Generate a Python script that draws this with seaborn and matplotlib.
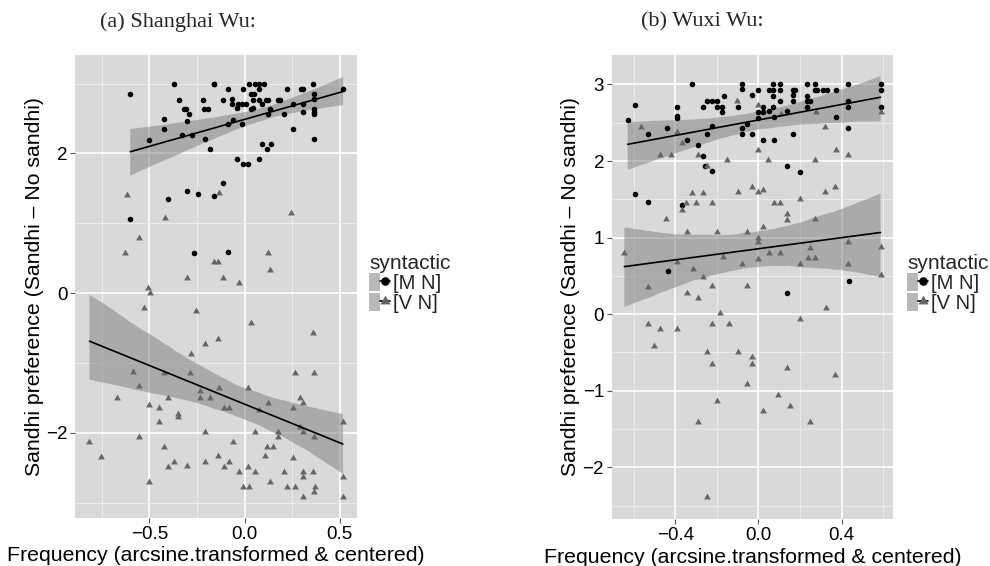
import numpy as np
import pandas as pd
import matplotlib
matplotlib.use("Agg")
import matplotlib.pyplot as plt
import seaborn as sns
from matplotlib.lines import Line2D
from matplotlib.patches import Patch
from matplotlib.path import Path
from matplotlib.legend_handler import HandlerTuple
from matplotlib.ticker import FixedLocator

# ---------------- data ----------------
groups = ["[M N]", "[V N]"]

sh_mn_x = [-0.599, -0.502, -0.424, -0.424, -0.370, -0.345, -0.318, -0.305, -0.293, -0.302,
           -0.326, -0.278, -0.217, -0.212, -0.194, -0.208, -0.184, -0.163, -0.158, -0.111,
           -0.087, -0.064, -0.067, -0.036, -0.038, -0.012, 0.010, -0.010, -0.063, -0.087,
           -0.012, 0.024, 0.057, 0.074, 0.104, 0.036, 0.047, 0.074, 0.045, 0.076,
           0.113, 0.125, 0.090, 0.043, 0.033, 0.135, 0.122, 0.174, 0.186, 0.220,
           0.295, 0.306, 0.361, 0.366, 0.366, 0.254, 0.304, 0.304, 0.208, 0.366,
           0.366, 0.366, 0.366, 0.252, 0.517, 0.089, 0.140, 0.120, -0.040, -0.007,
           0.017, 0.074, -0.115, -0.163, -0.245, -0.304, -0.401, -0.600, -0.266, -0.087]
sh_mn_y = [2.85, 2.19, 2.49, 2.35, 3.00, 2.77, 2.64, 2.64, 2.56, 2.46,
           2.27, 2.27, 2.77, 2.64, 2.64, 2.21, 2.06, 3.00, 3.00, 2.77,
           2.92, 2.78, 2.71, 2.71, 2.65, 2.71, 2.71, 2.92, 2.48, 2.42,
           2.42, 3.00, 3.00, 3.00, 3.00, 2.85, 2.85, 2.92, 2.77, 2.77,
           2.77, 2.77, 2.71, 2.65, 2.63, 2.64, 2.56, 2.77, 2.77, 2.92,
           2.92, 2.92, 3.00, 2.85, 2.78, 2.71, 2.71, 2.59, 2.56, 2.64,
           2.60, 2.57, 2.21, 2.35, 2.92, 2.13, 2.13, 2.06, 1.92, 1.85,
           1.85, 1.92, 1.57, 1.39, 1.42, 1.46, 1.35, 1.06, 0.57, 0.59]

sh_vn_x = [-0.616, -0.132, -0.420, 0.241, -0.556, -0.630, 0.121, -0.159, -0.137, 0.136,
           -0.302, -0.111, -0.031, -0.507, -0.495, -0.528, -0.255, 0.035, 0.361, -0.137,
           -0.208, -0.280, -0.585, -0.425, -0.288, 0.262, 0.366, -0.556, -0.135, 0.017,
           -0.670, -0.401, -0.233, -0.233, -0.179, -0.500, -0.448, -0.351, -0.351, -0.448,
           -0.108, -0.083, 0.076, 0.121, 0.252, 0.292, 0.304, -0.556, -0.208, 0.056,
           0.174, 0.174, 0.516, 0.292, 0.304, 0.366, -0.814, -0.753, -0.424, -0.063,
           0.120, 0.149, 0.106, -0.137, 0.252, -0.373, -0.400, -0.302, -0.208, -0.108,
           -0.083, -0.031, 0.017, 0.056, 0.208, 0.304, 0.304, 0.361, -0.500, 0.136,
           -0.010, 0.023, 0.220, 0.262, 0.372, 0.366, 0.304, 0.516, 0.516]
sh_vn_y = [1.40, 1.43, 1.07, 1.15, 0.79, 0.58, 0.58, 0.44, 0.44, 0.33,
           0.21, 0.21, 0.14, 0.07, 0.00, -0.21, -0.26, -0.43, -0.57, -0.66,
           -0.73, -0.87, -1.13, -1.14, -1.14, -1.14, -1.14, -1.33, -1.36, -1.36,
           -1.50, -1.50, -1.40, -1.50, -1.50, -1.60, -1.64, -1.73, -1.78, -1.85,
           -1.64, -1.64, -1.67, -1.57, -1.64, -1.50, -1.57, -2.06, -1.99, -1.99,
           -1.99, -2.06, -1.85, -1.92, -1.99, -2.06, -2.13, -2.35, -2.20, -2.13,
           -2.20, -2.20, -2.33, -2.33, -2.36, -2.42, -2.49, -2.47, -2.42, -2.49,
           -2.42, -2.56, -2.49, -2.56, -2.56, -2.56, -2.63, -2.56, -2.71, -2.71,
           -2.78, -2.78, -2.78, -2.78, -2.78, -2.85, -2.92, -2.63, -2.92]

wx_mn_x = [-0.630, -0.595, -0.595, -0.532, -0.532, -0.441, -0.438, -0.393, -0.393, -0.393,
           -0.369, -0.343, -0.321, -0.293, -0.269, -0.269, -0.257, -0.249, -0.246, -0.222,
           -0.198, -0.222, -0.222, -0.198, -0.174, -0.174, -0.165, -0.098, -0.077, -0.077,
           -0.077, -0.077, -0.053, -0.029, -0.029, 0.000, 0.000, 0.000, 0.024, 0.024,
           0.024, 0.050, 0.050, 0.071, 0.071, 0.071, 0.071, 0.074, 0.074, 0.104,
           0.104, 0.104, 0.135, 0.136, 0.165, 0.165, 0.165, 0.176, 0.166, 0.199,
           0.234, 0.234, 0.234, 0.246, 0.234, 0.272, 0.272, 0.283, 0.312, 0.328,
           0.373, 0.373, 0.433, 0.433, 0.433, 0.433, 0.588, 0.588, 0.588, 0.136,
           0.4375]
wx_mn_y = [2.53, 2.73, 1.57, 1.46, 2.35, 2.43, 0.57, 2.71, 2.59, 2.56,
           1.43, 2.28, 3.00, 2.21, 2.71, 2.07, 1.93, 2.35, 2.78, 2.78,
           2.78, 2.46, 1.87, 2.71, 2.71, 2.64, 2.85, 2.71, 3.00, 2.94,
           2.43, 2.35, 2.49, 2.86, 2.35, 2.93, 2.64, 2.56, 2.71, 2.64,
           2.28, 2.93, 2.65, 2.71, 3.00, 2.93, 2.85, 2.57, 2.27, 3.00,
           2.93, 2.78, 2.65, 1.93, 2.78, 2.86, 2.93, 2.93, 2.35, 1.86,
           3.00, 2.85, 2.78, 2.78, 2.71, 3.00, 2.93, 2.93, 2.93, 2.93,
           2.57, 2.93, 3.00, 2.78, 2.71, 2.43, 3.00, 2.93, 2.71, 0.28,
           0.43]

wx_vn_x = [-0.564, -0.473, -0.420, -0.393, -0.369, -0.293, -0.246, -0.151, -0.103, 0.000,
           0.000, 0.046, 0.109, 0.276, 0.272, 0.320, 0.373, 0.433, 0.588, -0.321,
           -0.269, -0.369, -0.349, -0.301, -0.222, -0.098, -0.029, 0.000, 0.024, 0.074,
           0.104, 0.135, 0.135, 0.199, 0.320, 0.370, 0.272, -0.444, -0.343, -0.198,
           -0.053, 0.024, 0.000, 0.000, -0.646, 0.433, 0.588, -0.394, -0.172, -0.079,
           0.000, 0.051, 0.104, 0.199, 0.237, 0.274, 0.250, 0.433, 0.588, -0.532,
           -0.343, -0.317, -0.293, -0.269, -0.222, -0.053, 0.325, -0.185, -0.532, -0.473,
           -0.394, -0.222, -0.141, 0.199, -0.502, -0.246, -0.098, -0.029, -0.222, -0.029,
           0.136, 0.367, -0.053, 0.096, -0.198, 0.152, 0.024, -0.293, 0.250, -0.246]
wx_vn_y = [2.44, 2.08, 2.08, 2.38, 2.23, 2.08, 1.93, 2.01, 2.78, 2.73,
           2.15, 2.01, 2.62, 2.64, 2.01, 2.44, 2.15, 2.08, 2.64, 1.58,
           1.58, 1.36, 1.45, 1.45, 1.45, 1.59, 1.66, 1.59, 1.62, 1.45,
           1.45, 1.31, 1.23, 1.51, 1.59, 1.66, 1.24, 1.24, 1.07, 1.07,
           1.07, 1.14, 1.00, 0.94, 0.80, 0.94, 0.88, 0.68, 0.75, 0.65,
           0.72, 0.80, 0.80, 0.65, 0.73, 0.73, 0.87, 0.65, 0.51, 0.35,
           0.28, 0.59, 0.21, 0.48, 0.37, 0.37, 0.08, 0.01, -0.13, -0.20,
           -0.20, -0.13, -0.13, -0.07, -0.41, -0.49, -0.49, -0.56, -0.65, -0.65,
           -0.70, -0.79, -0.91, -1.06, -1.13, -1.20, -1.27, -1.41, -1.41, -2.39]

panel_titles = ["(a) Shanghai Wu:", "(b) Wuxi Wu:"]
x_label = "Frequency (arcsine.transformed & centered)"
y_label = "Sandhi preference (Sandhi \u2013 No sandhi)"
legend_title = "syntactic"

def make_df(mn_x, mn_y, vn_x, vn_y):
    return pd.DataFrame({
        "freq": list(mn_x) + list(vn_x),
        "pref": list(mn_y) + list(vn_y),
        "syntactic": [groups[0]] * len(mn_x) + [groups[1]] * len(vn_x),
    })

df_sh = make_df(sh_mn_x, sh_mn_y, sh_vn_x, sh_vn_y)
df_wx = make_df(wx_mn_x, wx_mn_y, wx_vn_x, wx_vn_y)

# ---------------- style ----------------
BG = "#D9D9D9"
sns.set_style("darkgrid", {"axes.facecolor": BG, "grid.color": "white"})
plt.rcParams["font.family"] = ["Liberation Sans", "DejaVu Sans"]

# equilateral triangle (like ggplot shape 17)
TRI = Path([(0, 1), (-0.866, -0.5), (0.866, -0.5), (0, 1)],
           [Path.MOVETO, Path.LINETO, Path.LINETO, Path.CLOSEPOLY])

point_color = {groups[0]: "black", groups[1]: "#666666"}
point_marker = {groups[0]: "o", groups[1]: TRI}
point_size = {groups[0]: 16, groups[1]: 32}
RIBBON = "#7F7F7F"
RIBBON_ALPHA = 0.52

fig = plt.figure(figsize=(9.9, 5.66), dpi=100)
fig.patch.set_facecolor("white")

W, H = 990.0, 566.0
ax_l = fig.add_axes([75 / W, 1 - 518 / H, 282 / W, 463 / H])
ax_r = fig.add_axes([611.7 / W, 1 - 519 / H, 281.3 / W, 464 / H])

def draw_panel(ax, df):
    for g in groups:
        sub = df[df["syntactic"] == g]
        sns.regplot(data=sub, x="freq", y="pref", ax=ax, scatter=False, ci=95,
                    n_boot=1000, seed=3, truncate=True, color="black",
                    line_kws={"lw": 1.2, "zorder": 4})
        band = ax.collections[-1]
        band.set_facecolor(RIBBON)
        band.set_alpha(RIBBON_ALPHA)
        band.set_edgecolor("none")
        band.set_zorder(2)
    for g in groups:
        sub = df[df["syntactic"] == g]
        sns.scatterplot(data=sub, x="freq", y="pref", ax=ax, color=point_color[g],
                        marker=point_marker[g], s=point_size[g], linewidth=0,
                        legend=False, zorder=3)

draw_panel(ax_l, df_sh)
draw_panel(ax_r, df_wx)

# limits and ticks
ax_l.set_xlim(-0.89, 0.59)
ax_l.set_ylim(-3.22, 3.41)
ax_l.xaxis.set_major_locator(FixedLocator([-0.5, 0.0, 0.5]))
ax_l.xaxis.set_minor_locator(FixedLocator([-0.75, -0.25, 0.25]))
ax_l.yaxis.set_major_locator(FixedLocator([-2, 0, 2]))
ax_l.yaxis.set_minor_locator(FixedLocator([-3, -1, 1, 3]))

ax_r.set_xlim(-0.707, 0.648)
ax_r.set_ylim(-2.676, 3.385)
ax_r.xaxis.set_major_locator(FixedLocator([-0.4, 0.0, 0.4]))
ax_r.xaxis.set_minor_locator(FixedLocator([-0.6, -0.2, 0.2, 0.6]))
ax_r.yaxis.set_major_locator(FixedLocator([-2, -1, 0, 1, 2, 3]))
ax_r.yaxis.set_minor_locator(FixedLocator([-2.5, -1.5, -0.5, 0.5, 1.5, 2.5]))

for ax, xt, yt, ylc in [(ax_l, ["\u22120.5", "0.0", "0.5"], ["\u22122", "0", "2"], -0.143),
                        (ax_r, ["\u22120.4", "0.0", "0.4"],
                         ["\u22122", "\u22121", "0", "1", "2", "3"], -0.147)]:
    ax.set_xticklabels(xt)
    ax.set_yticklabels(yt)
    ax.set_facecolor(BG)
    ax.grid(which="major", color="white", lw=1.2)
    ax.grid(which="minor", color="#EEEEEE", lw=0.6)
    ax.set_axisbelow(True)
    for s in ax.spines.values():
        s.set_visible(False)
    ax.tick_params(which="major", direction="out", length=3.5, width=0.8,
                   color="#555555", labelsize=13.5, labelcolor="black", pad=2,
                   bottom=True, left=True)
    ax.tick_params(which="minor", length=0)
    ax.set_xlabel(x_label, fontsize=15.3, color="black")
    ax.set_ylabel(y_label, fontsize=15.3, color="black")
    ax.xaxis.label.set_verticalalignment("center")
    ax.yaxis.label.set_verticalalignment("center")
    ax.xaxis.set_label_coords(0.5, -0.082)
    ax.yaxis.set_label_coords(ylc, 0.5)

# panel titles
fig.text(100 / W, 1 - 22 / H, panel_titles[0], fontsize=16, va="center", ha="left",
         family=["Liberation Serif", "DejaVu Serif"])
fig.text(641 / W, 1 - 22 / H, panel_titles[1], fontsize=16, va="center", ha="left",
         family=["Liberation Serif", "DejaVu Serif"])

# legends
KEY_BG = "#B8B8B8"
def legend_handles():
    hs = []
    for g in groups:
        hs.append((Patch(facecolor=KEY_BG, edgecolor="none"),
                   Line2D([0], [0], color="black", lw=1.2, marker=point_marker[g],
                          markersize=6.2 if g == groups[0] else 8.5,
                          markerfacecolor=point_color[g], markeredgewidth=0)))
    return hs

for x0 in (369, 907):
    leg = fig.legend(legend_handles(), groups, loc="upper left",
                     bbox_to_anchor=(x0 / W, 1 - 254 / H), frameon=False,
                     handler_map={tuple: HandlerTuple(ndivide=None, pad=0)},
                     fontsize=14.5, title=legend_title, title_fontsize=15,
                     handlelength=1.05, handleheight=1.0, labelspacing=0.0,
                     handletextpad=0.12, borderpad=0, borderaxespad=0,
                     alignment="left")

fig.savefig("out.png", dpi=100, facecolor="white")
